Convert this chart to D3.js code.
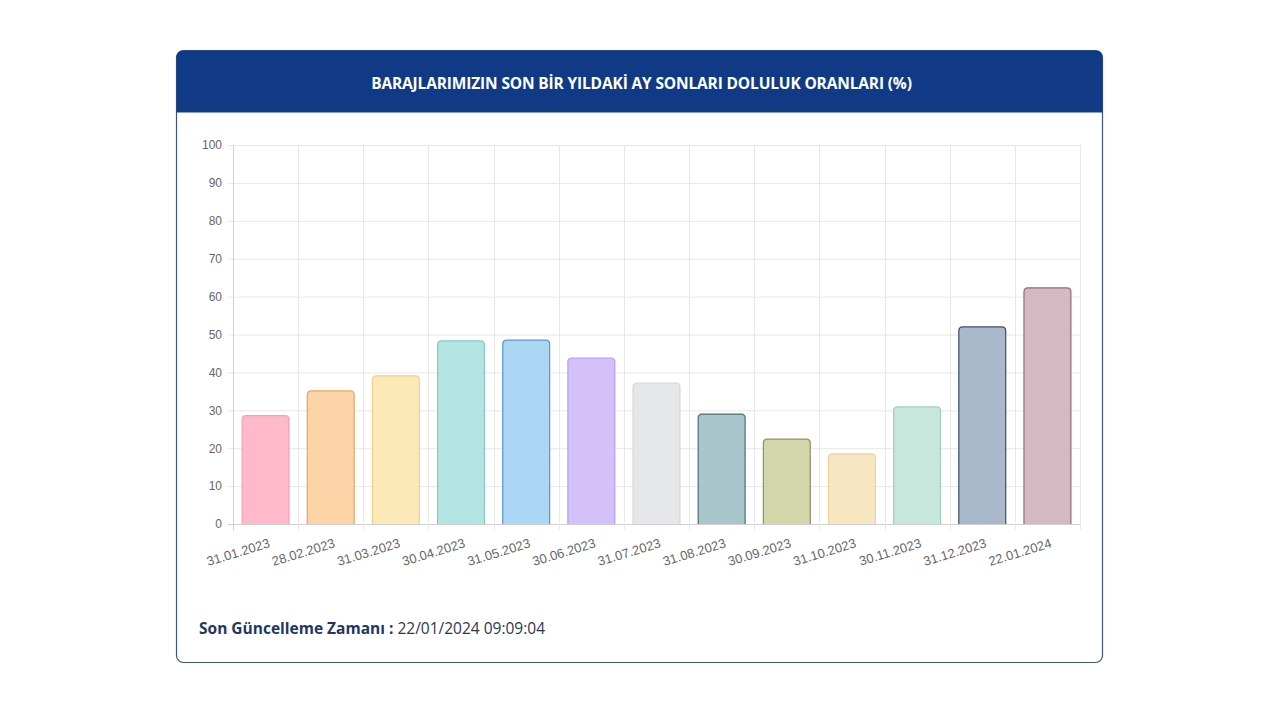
<!DOCTYPE html>
<html><head><meta charset="utf-8">
<script src="https://cdn.jsdelivr.net/npm/d3@7"></script>
<style>
html,body{margin:0;padding:0;background:#fff;}
svg{display:block;}
</style></head>
<body>
<svg id="c" width="1280" height="720"></svg>
<script>
const categories = ["31.01.2023","28.02.2023","31.03.2023","30.04.2023","31.05.2023","30.06.2023","31.07.2023","31.08.2023","30.09.2023","31.10.2023","30.11.2023","31.12.2023","22.01.2024"];
const values = [28.6, 35.1, 39.1, 48.3, 48.5, 43.8, 37.2, 29.0, 22.4, 18.5, 30.9, 52.0, 62.3];
const fills = ["#ffb9ca","#fdd3a8","#fde8b7","#b3e4e1","#abd6f4","#d4c1fa","#e6e7e9","#a9c7cb","#d3d5ab","#f6e6c2","#c7e6dc","#aab8cc","#d5b9c2"];
const strokes = ["#f5a0b4","#e0a868","#f0d08a","#84c9c5","#5e95c4","#b79ceb","#d6d7d9","#4c6e76","#8f9160","#e8d39c","#9fcfc0","#3f4d6a","#8d6b79"];
const yTicks = [0,10,20,30,40,50,60,70,80,90,100];
const title = "BARAJLARIMIZIN SON BİR YILDAKİ AY SONLARI DOLULUK ORANLARI (%)";
const footerLabel = "Son Güncelleme Zamanı :";
const footerValue = " 22/01/2024 09:09:04";

const svg = d3.select("#c");
// card
const cx=176.5, cy=50.5, cw=926, ch=612;
svg.append("rect").attr("x",cx).attr("y",cy).attr("width",cw).attr("height",ch).attr("rx",7)
  .attr("fill","#fff").attr("stroke","#3d5579").attr("stroke-width",1.2);
// header
const hh=62;
svg.append("path").attr("d",`M${cx},${cy+hh} V${cy+7} Q${cx},${cy} ${cx+7},${cy} H${cx+cw-7} Q${cx+cw},${cy} ${cx+cw},${cy+7} V${cy+hh} Z`)
  .attr("fill","#113a86");
svg.append("text").attr("x",cx+cw/2+2).attr("y",cy+38).attr("text-anchor","middle")
  .attr("fill","#fff").attr("font-family","'Open Sans', sans-serif").attr("font-weight",700)
  .attr("font-size",15.5).attr("letter-spacing",-0.15).text(title);

// plot
const L=233, R=1080, T=145, B=524;
const x = d3.scaleBand().domain(categories).range([L,R]).paddingInner(0).paddingOuter(0);
const y = d3.scaleLinear().domain([0,100]).range([B,T]);
const g = svg.append("g");
// grid
g.selectAll(".hg").data(yTicks).join("line").attr("x1",L-5).attr("x2",R).attr("y1",d=>y(d)+0.5).attr("y2",d=>y(d)+0.5)
  .attr("stroke",d=>d===0?"#d0d0d0":"#e8e8e8").attr("stroke-width",1);
const vx = categories.map(c=>x(c)).concat([R]);
g.selectAll(".vg").data(vx).join("line").attr("x1",d=>Math.round(d)+0.5).attr("x2",d=>Math.round(d)+0.5)
  .attr("y1",T).attr("y2",B+6).attr("stroke",(d,i)=>i===0?"#d0d0d0":"#e8e8e8");
// y labels
const yAxis = d3.axisLeft(y).tickValues(yTicks).tickSize(0).tickPadding(10);
const ya = svg.append("g").attr("transform",`translate(${L-1},0)`).call(yAxis);
ya.select(".domain").remove();
ya.selectAll("text").attr("fill","#666").attr("font-family","'Liberation Sans', Arial, sans-serif").attr("font-size",12);

// bars
const bw = x.bandwidth()*0.72;
const r=4;
function barPath(x0,y0,w,h){
  const rr=Math.min(r,h/2);
  return `M${x0},${y0+h} V${y0+rr} Q${x0},${y0} ${x0+rr},${y0} H${x0+w-rr} Q${x0+w},${y0} ${x0+w},${y0+rr} V${y0+h}`;
}
svg.append("g").selectAll("path").data(values).join("path")
  .attr("d",(v,i)=>{const xc=x(categories[i])+x.bandwidth()/2; return barPath(xc-bw/2, y(v), bw, y(0)-y(v));})
  .attr("fill",(v,i)=>fills[i]).attr("stroke",(v,i)=>strokes[i]).attr("stroke-width",1.2);

// x labels
const xAxis = d3.axisBottom(x).tickSize(0).tickPadding(0);
const xa = svg.append("g").attr("transform",`translate(0,${B})`).call(xAxis);
xa.select(".domain").remove();
xa.selectAll("text").attr("fill","#666").attr("font-family","'Liberation Sans', Arial, sans-serif").attr("font-size",13)
  .attr("text-anchor","end").attr("dy",0)
  .attr("transform",`translate(5,${23}) rotate(-17)`);

// footer
const ft = svg.append("text").attr("x",199).attr("y",634).attr("font-family","'Open Sans', sans-serif").attr("font-size",15.5);
ft.append("tspan").attr("font-weight",700).attr("fill","#1f3764").text(footerLabel);
ft.append("tspan").attr("fill","#2b3850").text(footerValue);
</script>
</body></html>
